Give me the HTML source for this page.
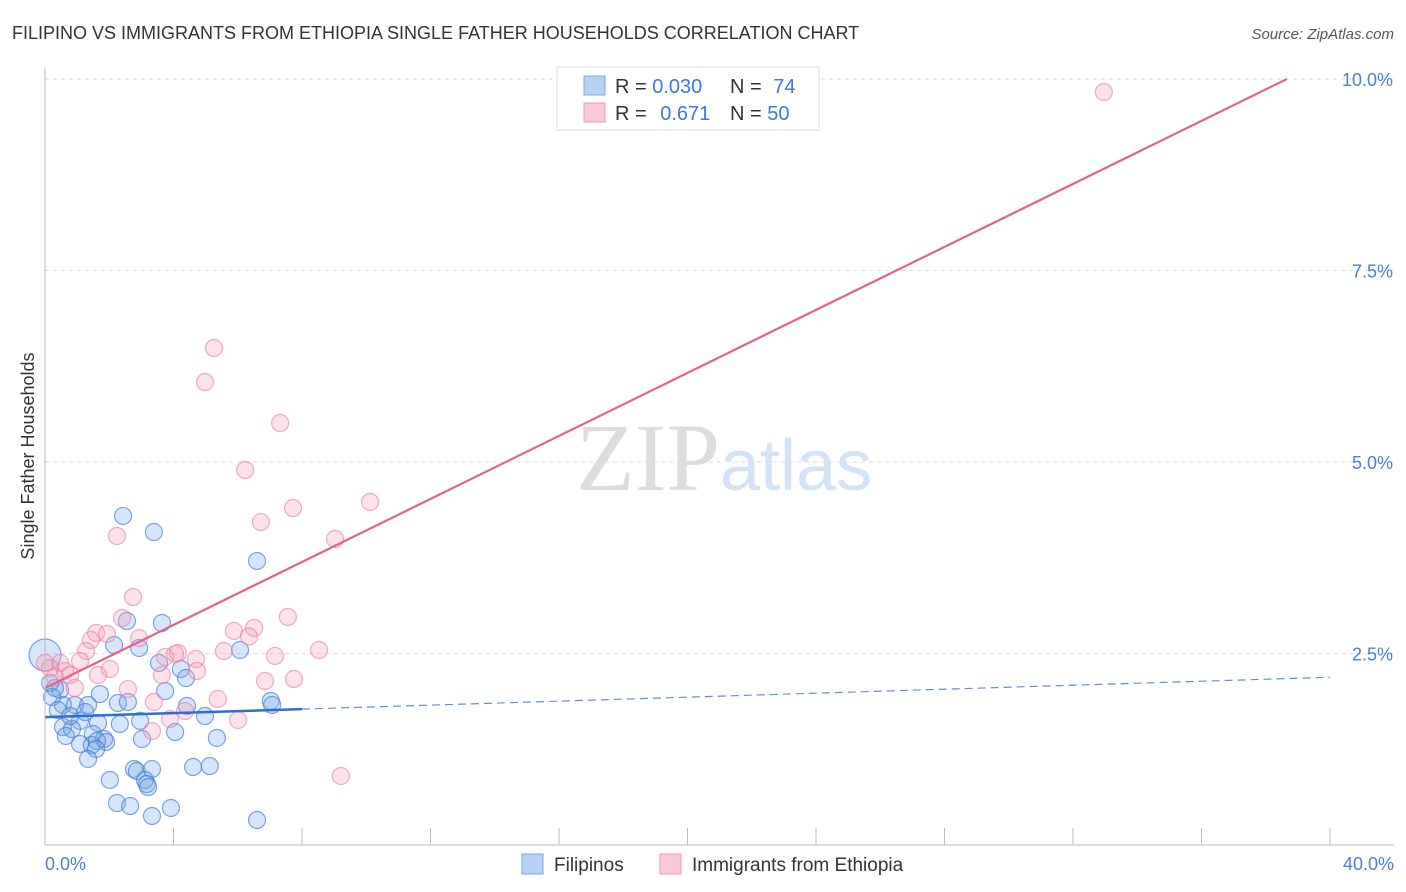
<!DOCTYPE html>
<html><head><meta charset="utf-8"><style>
body{margin:0;background:#fff;font-family:"Liberation Sans",sans-serif;}
#wrap{position:relative;width:1406px;height:892px;overflow:hidden;}
</style></head><body>
<div id="wrap">
<svg id="svg" width="1406" height="892" xmlns="http://www.w3.org/2000/svg">
<text x="12" y="39" font-size="18" fill="#333">FILIPINO VS IMMIGRANTS FROM ETHIOPIA SINGLE FATHER HOUSEHOLDS CORRELATION CHART</text>
<text x="1394" y="39" font-size="15" fill="#555" font-style="italic" text-anchor="end">Source: ZipAtlas.com</text>
<text x="720" y="490" font-size="96" fill="#ddd" text-anchor="end" font-family="Liberation Serif">ZIP</text>
<text x="720" y="490" font-size="72" fill="#d4e3f5">atlas</text>
<text transform="translate(34,456) rotate(-90)" font-size="18" fill="#333" text-anchor="middle">Single Father Households</text>
<g id="grid"></g><g id="ticks"></g><g id="pts"></g><g id="lines"></g>
<line x1="45" y1="68" x2="45" y2="845" stroke="#bbb"/>
<line x1="45" y1="845" x2="1394" y2="845" stroke="#bbb"/>
<text x="45" y="870" font-size="18" fill="#4a7fd8">0.0%</text>
<text x="1394" y="870" font-size="18" fill="#4a7fd8" text-anchor="end">40.0%</text>
<g>
<rect x="557" y="67" width="262" height="63" fill="#fff" stroke="#ddd"/>
<rect x="584" y="76" width="21" height="19" fill="#b7d1f5" stroke="#7aa7e6"/>
<rect x="584" y="103" width="21" height="19" fill="#f9c9d8" stroke="#ee9ab5"/>
<text x="615" y="93" font-size="20" fill="#333">R = <tspan fill="#3f79d6">0.030</tspan></text>
<text x="730" y="93" font-size="20" fill="#333">N = <tspan fill="#3f79d6" dx="6">74</tspan></text>
<text x="615" y="120" font-size="20" fill="#333">R = <tspan fill="#3f79d6" dx="8">0.671</tspan></text>
<text x="730" y="120" font-size="20" fill="#333">N = <tspan fill="#3f79d6">50</tspan></text>
</g>
<g>
<rect x="522" y="854" width="21" height="20" fill="#b7d1f5" stroke="#7aa7e6"/>
<text x="554" y="871" font-size="19" fill="#333">Filipinos</text>
<rect x="660" y="854" width="21" height="20" fill="#f9c9d8" stroke="#ee9ab5"/>
<text x="692" y="871" font-size="19" fill="#333">Immigrants from Ethiopia</text>
</g>
</svg>
</div>
<script>
const yTicks=[2.5,5,7.5,10];
const yTickLabels=["2.5%","5.0%","7.5%","10.0%"];
const xTicks=[0,4,8,12,16,20,24,28,32,36,40];
const blueX=[2.43,3.39,6.6,3.64,2.55,2.15,2.93,6.07,3.55,4.23,4.39,3.74,1.71,0.47,0.31,0.16,0,0.56,0.93,1.34,2.27,2.58,4.42,7.03,7.07,4.98,1.09,1.65,2.33,2.96,0.56,0.84,0.65,1.49,1.84,1.9,3.02,4.05,5.35,1.09,1.46,1.62,1.59,1.34,2.02,2.77,2.86,3.33,4.61,5.13,3.11,3.17,3.21,2.24,2.65,3.92,3.33,6.6,0.22,0.4,0.78,1.25];
const blueY=[4.296,4.086,3.708,2.898,2.924,2.611,2.572,2.546,2.376,2.298,2.18,2.01,1.97,2.024,2.05,2.115,2.48,1.828,1.828,1.828,1.854,1.867,1.815,1.88,1.828,1.684,1.62,1.593,1.58,1.62,1.54,1.514,1.423,1.449,1.384,1.345,1.384,1.475,1.397,1.319,1.305,1.358,1.253,1.123,0.849,0.992,0.966,0.992,1.018,1.031,0.849,0.796,0.757,0.548,0.509,0.483,0.379,0.326,1.931,1.762,1.684,1.736];
const pinkX=[32.96,5.26,4.98,7.32,6.23,10.12,7.72,6.72,2.24,9.03,2.74,2.4,7.56,2.93,6.51,5.88,1.59,1.43,1.28,1.93,4.14,3.74,4.05,4.7,6.35,5.57,7.16,8.53,2.02,0.47,0.62,0.16,1.09,0,0.31,0.78,1.65,3.64,2.58,6.85,7.75,3.39,5.38,3.89,4.36,6.01,3.33,9.21,0.93,4.73];
const pinkY=[9.83,6.488,6.044,5.509,4.896,4.478,4.399,4.216,4.034,3.995,3.238,2.963,2.977,2.7,2.833,2.794,2.768,2.676,2.533,2.755,2.507,2.455,2.494,2.428,2.722,2.533,2.468,2.546,2.298,2.376,2.272,2.311,2.402,2.376,2.193,2.219,2.219,2.219,2.036,2.141,2.167,1.867,1.906,1.645,1.749,1.632,1.488,0.901,2.050,2.272];
const pinkFit=[2.05,10.0];const pinkFitX=[0,38.66];
const blueFit=[1.67,2.19];const blueSolidEnd=8;
const X=v=>45+v*32.125, Y=v=>845-v*76.6;
const NS="http://www.w3.org/2000/svg";
function mk(tag,attrs,parent){const e=document.createElementNS(NS,tag);for(const k in attrs)e.setAttribute(k,attrs[k]);document.getElementById(parent).appendChild(e);return e;}
yTicks.forEach((t,i)=>{
 const l=mk('line',{x1:45,x2:1394,y1:Y(t),y2:Y(t),stroke:'#ddd','stroke-dasharray':'4,4'},'grid');
 
 
 const tx=mk('text',{x:1393,y:Y(t)+7,'font-size':18,fill:'#4a7fd8','text-anchor':'end'},'grid');
 tx.textContent=yTickLabels[i];
 
 
});
xTicks.forEach(t=>{
 const l=mk('line',{x1:X(t),x2:X(t),y1:828,y2:845,stroke:'#bbb'},'ticks');
 
 
});
blueX.forEach((x,i)=>{
 const r=(i==16)?16:8.5;
 const c=mk('circle',{cx:X(x),cy:Y(blueY[i]),r:r,fill:'rgba(120,170,235,0.3)',stroke:'rgba(60,120,215,0.65)','stroke-width':1.2},'pts');
 
 
});
pinkX.forEach((x,i)=>{
 const c=mk('circle',{cx:X(x),cy:Y(pinkY[i]),r:8.5,fill:'rgba(245,160,190,0.3)',stroke:'rgba(235,120,160,0.6)','stroke-width':1.2},'pts');
 
 
});
const bAt=v=>blueFit[0]+(blueFit[1]-blueFit[0])*v/40;
let l1=mk('line',{x1:X(0),y1:Y(bAt(0)),x2:X(blueSolidEnd),y2:Y(bAt(blueSolidEnd)),stroke:'#2a6fd6','stroke-width':2.5},'lines');


let l2=mk('line',{x1:X(blueSolidEnd),y1:Y(bAt(blueSolidEnd)),x2:X(40),y2:Y(bAt(40)),stroke:'#5a90dd','stroke-width':1.2,'stroke-dasharray':'8,5'},'lines');


let l3=mk('line',{x1:X(pinkFitX[0]),y1:Y(pinkFit[0]),x2:X(pinkFitX[1]),y2:Y(pinkFit[1]),stroke:'#e8608e','stroke-width':2.2},'lines');


</script>
</body></html>
